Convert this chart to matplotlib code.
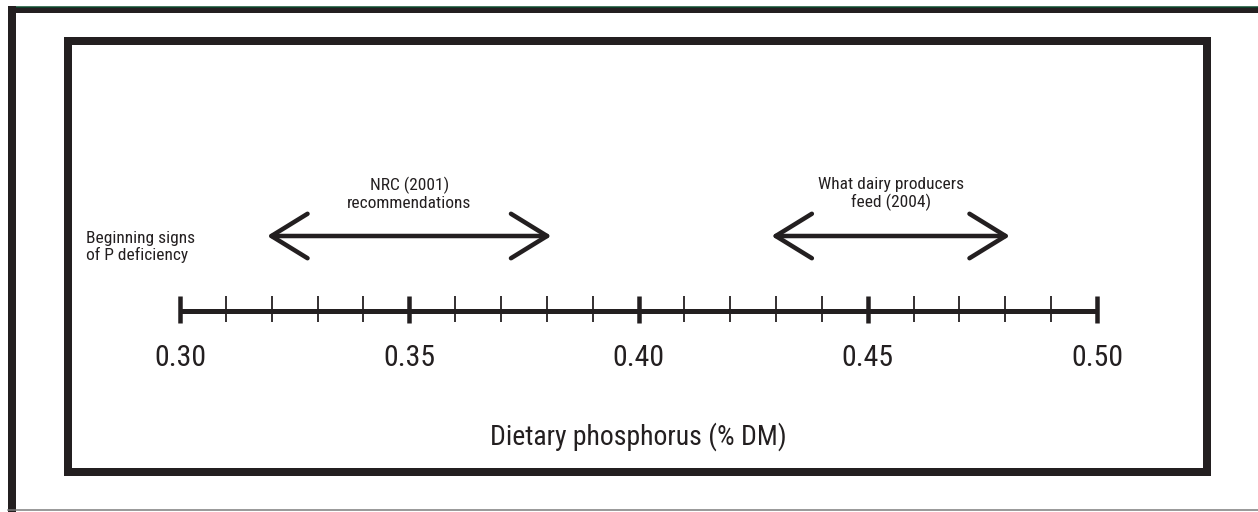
"""Dietary phosphorus number line: NRC recommendations vs. what producers feed."""

import matplotlib

matplotlib.use("Agg")

import matplotlib.pyplot as plt
from matplotlib import font_manager

INK = "#231f20"

major_ticks = [0.30, 0.35, 0.40, 0.45, 0.50]
major_labels = ["0.30", "0.35", "0.40", "0.45", "0.50"]
minor_ticks = [0.31, 0.32, 0.33, 0.34, 0.36, 0.37, 0.38, 0.39,
               0.41, 0.42, 0.43, 0.44, 0.46, 0.47, 0.48, 0.49]

range_labels = ["NRC (2001)\nrecommendations", "What dairy producers\nfeed (2004)"]
range_starts = [0.32, 0.43]
range_ends = [0.38, 0.48]

deficiency_label = "Beginning signs\nof P deficiency"
axis_title = "Dietary phosphorus (% DM)"

# condensed face if one is installed, otherwise a plain sans
names = {f.name for f in font_manager.fontManager.ttflist}
FONT = "Liberation Sans"
for candidate in ["Roboto Condensed", "Liberation Sans Narrow", "Open Sans Condensed", "Roboto"]:
    if candidate in names:
        FONT = candidate
        break
plt.rcParams["font.family"] = [FONT, "DejaVu Sans"]

fig = plt.figure(figsize=(12.58, 5.12), dpi=100)

# decoration layer in pixel coordinates
frame_ax = fig.add_axes([0, 0, 1, 1])
frame_ax.set_xlim(0, 1258)
frame_ax.set_ylim(512, 0)
frame_ax.axis("off")
px = 0.72  # points per pixel at dpi 100
frame_ax.plot([8, 1258], [9.5, 9.5], color=INK, lw=6 * px, solid_capstyle="butt")
frame_ax.plot([8, 1258], [6.5, 6.5], color="#0b4a2c", lw=1.5 * px, solid_capstyle="butt")
frame_ax.plot([11.5, 11.5], [6, 512], color=INK, lw=8 * px, solid_capstyle="butt")
frame_ax.plot([8, 1258], [509.5, 509.5], color="#7a7a7a", lw=1.5 * px)
frame_ax.add_patch(plt.Rectangle((68, 41), 1139, 431, fill=False,
                                 edgecolor=INK, lw=8 * px, joinstyle="miter"))

# number line: x in % DM, y in pixel rows
ax = fig.add_axes([0, 0, 1, 1])
ax.patch.set_alpha(0)
ax.axis("off")
scale = 4585.0
ax.set_xlim(0.30 - 180 / scale, 0.30 + 1078 / scale)
ax.set_ylim(512, 0)

line_y = 311
ax.hlines(line_y, major_ticks[0], major_ticks[-1], color=INK, lw=5 * px)
ax.vlines(major_ticks, 296, 323, color=INK, lw=4.5 * px)
ax.vlines(minor_ticks, 296, 322, color=INK, lw=1.8 * px)
for value, label in zip(major_ticks, major_labels):
    ax.text(value, 358, label, ha="center", va="center", fontsize=21.5, color=INK)

ax.text((major_ticks[0] + major_ticks[-1]) / 2, 437, axis_title,
        ha="center", va="center", fontsize=20, color=INK)

arrow_y = 236
for label, start, end in zip(range_labels, range_starts, range_ends):
    ax.annotate(
        "", xy=(end + 0.001, arrow_y), xytext=(start - 0.001, arrow_y),
        arrowprops=dict(arrowstyle="<->,head_length=26,head_width=16",
                        mutation_scale=1, lw=4.5 * px, color=INK,
                        shrinkA=0, shrinkB=0),
    )
    ax.text((start + end) / 2, 194, label, ha="center", va="center",
            fontsize=12.5, color=INK, linespacing=1.15)

ax.text(0.30 - 94 / scale, 247, deficiency_label, ha="left", va="center",
        fontsize=12.5, color=INK, linespacing=1.15)

fig.savefig("out.png", dpi=100)
plt.close(fig)
